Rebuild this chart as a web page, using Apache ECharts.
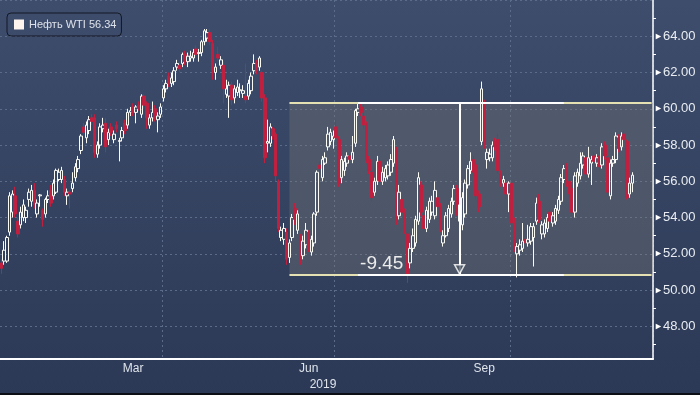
<!DOCTYPE html>
<html><head><meta charset="utf-8">
<script src="https://cdn.jsdelivr.net/npm/echarts@6/dist/echarts.min.js"></script>
<style>html,body{margin:0;padding:0;background:#2c3a57;}#c{width:700px;height:395px;}</style>
</head><body><div id="c"></div>
<script>
// ---- data ----
const seriesName = 'Нефть WTI';
const tradingDays = [
'01-04','01-07','01-08','01-09','01-10','01-11','01-14','01-15','01-16','01-17','01-18','01-22','01-23','01-24','01-25','01-28','01-29','01-30','01-31',
'02-01','02-04','02-05','02-06','02-07','02-08','02-11','02-12','02-13','02-14','02-15','02-19','02-20','02-21','02-22','02-25','02-26','02-27','02-28',
'03-01','03-04','03-05','03-06','03-07','03-08','03-11','03-12','03-13','03-14','03-15','03-18','03-19','03-20','03-21','03-22','03-25','03-26','03-27','03-28','03-29',
'04-01','04-02','04-03','04-04','04-05','04-08','04-09','04-10','04-11','04-12','04-15','04-16','04-17','04-18','04-22','04-23','04-24','04-25','04-26','04-29','04-30',
'05-01','05-02','05-03','05-06','05-07','05-08','05-09','05-10','05-13','05-14','05-15','05-16','05-17','05-20','05-21','05-22','05-23','05-24','05-28','05-29','05-30','05-31',
'06-03','06-04','06-05','06-06','06-07','06-10','06-11','06-12','06-13','06-14','06-17','06-18','06-19','06-20','06-21','06-24','06-25','06-26','06-27','06-28',
'07-01','07-02','07-03','07-05','07-08','07-09','07-10','07-11','07-12','07-15','07-16','07-17','07-18','07-19','07-22','07-23','07-24','07-25','07-26','07-29','07-30','07-31',
'08-01','08-02','08-05','08-06','08-07','08-08','08-09','08-12','08-13','08-14','08-15','08-16','08-19','08-20','08-21','08-22','08-23','08-26','08-27','08-28','08-29','08-30',
'09-03','09-04','09-05','09-06','09-09','09-10','09-11','09-12','09-13','09-16','09-17','09-18','09-19','09-20','09-23','09-24','09-25','09-26','09-27','09-30',
'10-01','10-02','10-03','10-04','10-07','10-08','10-09','10-10','10-11','10-14','10-15','10-16','10-17','10-18','10-21','10-22','10-23','10-24','10-25','10-28','10-29','10-30','10-31',
'11-01','11-04','11-05','11-06','11-07','11-08','11-11','11-12','11-13','11-14','11-15','11-18','11-19','11-20','11-21','11-22','11-25','11-26','11-27','11-29',
'12-02','12-03','12-04','12-05','12-06','12-09','12-10','12-11','12-12'
];
const opens = [
51.5,51.6,51.6,53.2,54.3,55.2,53.8,53.6,54.0,54.0,
55.0,54.9,55.5,54.2,55.2,54.4,54.2,55.0,55.5,55.2,
55.4,56.1,56.1,56.1,55.2,55.4,55.6,56.2,56.7,57.7,
59.0,58.4,58.8,59.5,59.5,57.5,58.0,58.9,59.2,58.3,
59.0,58.3,59.1,58.2,58.4,59.2,59.1,59.8,60.1,59.8,
60.2,59.7,60.7,60.3,59.1,59.5,60.0,59.4,59.7,60.6,
61.1,61.8,61.4,61.5,62.3,62.4,62.5,63.0,62.6,62.8,
62.8,63.3,63.05,63.1,63.7,63.9,64.2,63.6,62.0,63.0,
62.4,62.4,60.8,60.7,61.3,60.6,60.9,61.0,60.85,60.7,
60.7,61.0,62.1,62.5,62.3,62.0,60.6,58.1,58.1,58.9,
58.6,56.0,52.9,52.8,53.2,51.8,52.9,54.5,53.3,53.0,
51.9,52.5,53.2,52.1,52.6,54.3,56.9,56.2,57.0,57.9,
58.2,58.3,59.0,58.3,56.2,56.6,57.0,57.4,57.2,58.1,
59.8,60.1,59.6,59.2,57.2,56.5,55.4,56.0,57.1,56.0,
56.2,56.3,56.5,57.0,57.7,54.1,55.0,54.3,53.1,51.5,
52.3,52.6,53.8,55.8,54.1,53.4,53.9,54.3,54.1,55.1,
54.6,52.6,53.0,53.4,54.2,54.9,55.6,53.8,53.6,54.2,
55.8,56.6,57.2,56.9,55.3,58.2,60.2,57.2,57.3,57.3,
58.2,58.3,56.4,55.9,55.9,55.3,55.9,53.7,52.0,52.2,
52.3,52.8,52.6,52.7,52.9,53.8,54.9,53.1,53.1,53.4,
54.3,53.7,53.8,54.4,54.9,56.1,56.8,56.0,55.6,54.3,
55.9,56.3,56.9,57.3,56.4,57.0,57.4,57.0,57.4,56.9,
58.0,57.3,55.2,57.0,57.2,58.4,57.9,58.6,58.2,55.3,55.9
];
const closes = [
51.2,52.2,52.9,55.2,55.3,54.2,53.1,54.3,54.7,54.4,
55.4,55.5,54.7,54.8,55.25,53.9,55.0,55.2,54.8,55.9,
56.6,56.5,56.6,55.4,55.4,55.3,55.9,56.8,57.2,58.5,
58.7,59.1,59.4,59.3,57.6,58.0,59.0,59.1,57.9,58.7,
58.7,58.6,58.9,58.25,58.8,58.8,59.8,59.9,59.8,60.1,
60.0,60.7,60.2,59.5,59.5,59.8,59.5,59.6,60.1,61.1,
61.4,61.4,61.7,62.1,62.5,62.2,63.0,62.6,62.9,62.9,
63.1,63.0,63.1,63.7,64.3,64.2,63.7,62.1,62.3,62.8,
62.7,61.1,61.1,61.3,60.5,61.1,61.2,61.05,61.0,60.5,
61.4,61.8,62.5,62.1,62.8,60.6,57.3,58.2,59.0,58.5,
56.3,53.4,53.3,53.4,51.7,52.6,54.0,53.9,54.2,51.7,
52.7,53.3,52.3,52.8,54.2,56.5,56.7,57.2,57.3,58.6,
58.7,58.5,58.4,55.9,57.2,57.1,57.4,57.2,57.6,59.9,
60.0,59.8,59.1,57.2,56.6,55.1,56.0,57.1,56.0,56.5,
56.7,56.9,57.2,58.3,53.8,55.4,54.3,53.3,50.9,52.3,
53.0,53.9,56.2,54.3,53.4,54.4,54.9,54.9,55.5,54.6,
53.4,53.0,54.1,54.5,54.9,55.6,54.3,54.7,55.1,55.9,
56.7,57.1,56.5,55.2,54.6,61.1,58.0,57.6,57.5,58.0,
57.9,56.6,55.9,56.1,55.3,55.9,53.7,52.3,52.4,52.5,
52.7,52.6,52.8,53.5,53.5,54.8,53.9,53.6,53.7,54.0,
53.8,54.1,54.5,55.0,56.2,56.7,55.9,55.3,54.3,56.3,
56.5,57.0,57.4,56.4,57.3,57.2,57.1,57.3,56.8,57.9,
57.4,55.4,57.0,57.2,58.5,57.8,58.5,58.3,55.1,55.9,56.34
];
const highs = [
51.7,52.7,53.0,55.4,55.5,55.7,54.0,54.6,55.0,54.6,
55.6,55.8,55.9,55.0,55.3,54.5,55.1,55.5,55.8,56.1,
56.7,56.7,56.8,56.3,55.6,55.5,56.5,57.0,57.4,58.6,
59.2,59.3,59.6,59.7,59.7,58.2,59.2,59.5,59.5,58.9,
59.2,58.8,59.3,58.4,59.0,59.4,60.0,60.1,60.3,60.2,
60.4,60.8,60.8,60.4,59.7,60.4,60.2,59.8,60.3,61.3,
61.6,62.0,62.0,62.3,62.7,62.6,63.1,63.2,63.1,63.2,
63.3,63.5,63.3,63.8,64.4,64.4,64.4,63.8,62.5,63.4,
62.9,62.6,61.6,61.5,61.5,61.3,61.6,61.4,61.3,62.5,
61.6,62.0,63.0,62.7,62.9,62.1,60.8,59.4,59.2,59.0,
58.7,56.1,53.5,53.7,53.4,52.8,54.2,54.8,54.4,53.1,
53.0,53.7,53.3,53.0,54.3,56.6,57.1,57.4,57.6,59.0,
58.9,58.8,59.4,58.5,57.4,57.3,57.6,57.5,58.5,60.0,
60.3,60.3,60.2,59.3,57.4,56.6,56.2,57.4,57.3,56.8,
56.9,57.1,57.5,58.5,57.9,55.8,55.2,54.5,53.2,52.6,
53.4,54.1,56.5,56.0,54.3,54.6,55.1,55.2,56.0,55.3,
54.8,53.3,54.3,54.7,55.1,55.8,55.8,55.0,55.4,56.1,
56.9,57.6,57.4,57.1,55.5,61.5,60.5,57.8,57.8,58.2,
58.4,58.6,56.6,56.3,56.1,56.0,56.0,54.0,52.6,52.8,
53.7,53.0,53.6,53.7,53.7,55.1,55.3,53.8,53.9,54.2,
54.5,54.3,54.7,55.2,56.4,56.9,57.0,56.2,55.8,56.5,
56.7,57.6,57.6,57.5,57.9,57.4,57.6,57.5,57.6,58.1,
58.2,57.4,57.2,57.4,58.7,58.6,58.7,58.8,58.3,56.2,56.5
];
const lows = [
50.9,51.4,51.5,53.0,54.0,54.0,52.9,53.4,53.8,53.7,
54.6,54.6,54.5,54.0,54.6,53.5,54.0,54.8,54.6,55.0,
55.3,56.0,55.9,55.2,54.7,54.5,55.4,56.0,56.5,57.5,
58.6,58.1,58.6,59.1,57.3,57.3,57.8,58.7,57.6,58.0,
58.5,58.1,58.7,57.1,58.2,58.6,58.9,59.6,59.6,59.2,
59.9,59.5,60.0,58.9,58.9,59.3,59.3,58.7,59.5,60.4,
60.9,61.2,61.2,61.3,62.1,62.0,62.3,62.4,62.3,62.6,
62.6,62.9,62.6,62.9,63.5,63.7,63.5,61.6,61.6,62.6,
62.2,60.3,60.6,59.5,60.2,60.3,60.7,60.6,60.6,60.3,
60.5,60.8,61.9,61.9,62.1,60.4,57.0,57.6,57.9,58.3,
56.0,53.2,52.7,52.5,51.4,51.5,52.7,53.6,53.1,51.4,
51.7,52.3,52.1,51.9,52.4,54.1,56.4,56.0,56.9,57.7,
58.0,57.8,58.2,55.7,55.9,56.3,56.8,56.9,57.0,57.9,
59.6,59.6,58.9,57.0,56.4,54.9,55.2,55.8,55.8,55.8,
56.0,56.1,56.3,56.8,53.6,53.9,54.1,53.1,50.4,51.2,
52.1,52.4,53.6,54.1,53.2,53.2,53.7,54.1,53.9,54.4,
53.2,52.4,52.9,53.2,54.0,54.7,54.1,53.6,53.3,54.0,
55.6,56.4,56.3,55.0,54.3,58.0,57.8,56.7,57.1,57.1,
57.7,56.4,55.7,55.7,55.0,54.3,53.5,52.1,50.7,51.9,
52.1,52.4,52.4,52.5,51.3,53.6,53.7,52.8,52.9,53.2,
53.6,53.5,53.6,54.2,54.7,55.9,55.7,55.1,54.1,54.0,
55.7,56.1,56.7,56.2,56.2,55.8,56.9,56.8,56.6,56.7,
57.2,55.2,55.0,56.8,57.0,57.6,57.7,58.1,55.0,55.1,55.4
];
// axis labelling
const labelMonths = ['03', '06', '09'];
const labelTexts = ['Mar', 'Jun', 'Sep'];
const gridMonths = ['04', '07', '10'];
const yearLabel = '2019';
// range annotation (price levels and dates)
const rangeHigh = 60.32;
const rangeLow = 50.87;
const boxStart = '2019-06-06';
const measureStart = '2019-07-12';
const measureEnd = '2019-10-28';
const arrowDate = '2019-09-04';

// ---- build ----
const categories = tradingDays.map(d => '2019-' + d);
const lastCategory = categories[categories.length - 1];
const candleData = opens.map((o, i) => [o, closes[i], lows[i], highs[i]]);
const lastClose = closes[closes.length - 1];
const monthOf = i => categories[i].slice(5, 7);
const monthStarts = [];
for (let i = 1; i < categories.length; i++) if (monthOf(i) !== monthOf(i - 1)) monthStarts.push(i);
const tickSet = new Set(monthStarts);
const gridSet = new Set(monthStarts.filter(i => gridMonths.includes(monthOf(i))));
const labelMap = {};
labelMonths.forEach((m, k) => {
  const s = categories.findIndex(c => c.slice(5, 7) === m);
  const e = monthStarts.find(i => i > s);
  labelMap[Math.floor((s + e) / 2)] = labelTexts[k];
});
const changeText = (rangeLow - rangeHigh).toFixed(2);

const gridColor = '#5a6c8a';
const whiteLine = {color: '#ffffff', width: 2, type: 'solid'};
const yellowLine = {color: '#e6e1b3', width: 2, type: 'solid'};
const FONT = 'Liberation Sans';

const chart = echarts.init(document.getElementById('c'), null, {renderer: 'canvas', width: 700, height: 395});
chart.setOption({
  animation: false,
  backgroundColor: new echarts.graphic.LinearGradient(0, 0, 0, 1, [
    {offset: 0, color: '#3f4d6d'}, {offset: 1, color: '#2b3956'}
  ]),
  grid: {left: 0, right: 47, top: 0, bottom: 36, containLabel: false, outerBoundsMode: 'none'},
  legend: {
    left: 7, top: 13, padding: [6, 5, 6, 7], itemWidth: 10, itemHeight: 10,
    selectedMode: false, borderColor: '#121725', borderWidth: 1, borderRadius: 4,
    data: [{name: seriesName, icon: 'rect', itemStyle: {color: '#fff3ee', borderWidth: 0}}],
    formatter: n => n + ' ' + lastClose.toFixed(2),
    textStyle: {color: '#dde2ea', fontSize: 11, fontFamily: FONT}
  },
  xAxis: {
    type: 'category', data: categories, boundaryGap: true,
    axisLine: {lineStyle: {color: '#ffffff', width: 2}},
    axisTick: {interval: i => tickSet.has(i), length: 4, lineStyle: {color: '#ffffff', width: 1}},
    axisLabel: {
      interval: i => (i in labelMap), formatter: (v, i) => labelMap[i] || '',
      color: '#dfe4ec', fontSize: 12, fontFamily: FONT, margin: 4
    },
    splitLine: {show: true, interval: i => gridSet.has(i), lineStyle: {color: gridColor, type: [2, 3], width: 1}}
  },
  yAxis: {
    type: 'value', position: 'right', min: 46.2, max: 66, splitNumber: 10,
    axisLine: {show: true, lineStyle: {color: '#ffffff', width: 1.5}},
    axisTick: {show: false},
    minorTick: {show: true, splitNumber: 2, length: 3, lineStyle: {color: '#ffffff', width: 1}},
    axisLabel: {
      showMinLabel: false, showMaxLabel: false, margin: 1,
      formatter: v => '{t|►}' + v.toFixed(2),
      color: '#e9edf2', fontSize: 13, fontFamily: FONT,
      rich: {t: {fontSize: 9, color: '#ffffff', fontFamily: FONT}}
    },
    splitLine: {show: true, lineStyle: {color: gridColor, type: [2, 3], width: 1}}
  },
  graphic: [
    {type: 'text', x: 323, y: 385, silent: true,
     style: {text: yearLabel, fill: '#dfe4ec', fontSize: 12, fontFamily: FONT, align: 'center', verticalAlign: 'middle'}},
    {type: 'rect', shape: {x: 0, y: 393, width: 700, height: 2}, style: {fill: '#0c0f16'}, silent: true}
  ],
  series: [
    {
      name: seriesName, type: 'candlestick', data: candleData, barWidth: 3, z: 3,
      itemStyle: {
        color: 'transparent', color0: '#c0203f',
        borderColor: '#fbfbf6', borderColor0: '#c0203f', borderColorDoji: '#fbfbf6', borderWidth: 1
      }
    },
    {
      type: 'line', data: [], z: 1, silent: true,
      markArea: {silent: true, itemStyle: {color: 'rgba(125,125,120,0.34)'},
        data: [[{xAxis: boxStart, yAxis: rangeHigh}, {yAxis: rangeLow}]]}
    },
    {
      type: 'line', data: [], z: 4, silent: true,
      markLine: {
        silent: true, symbol: ['none', 'none'], animation: false, label: {show: false},
        data: [
          [{xAxis: boxStart, yAxis: rangeHigh, lineStyle: yellowLine}, {xAxis: lastCategory, yAxis: rangeHigh}],
          [{xAxis: boxStart, yAxis: rangeLow, lineStyle: yellowLine}, {xAxis: lastCategory, yAxis: rangeLow}],
          [{xAxis: measureStart, yAxis: rangeHigh, lineStyle: whiteLine}, {xAxis: measureEnd, yAxis: rangeHigh}],
          [{xAxis: measureStart, yAxis: rangeLow, lineStyle: whiteLine,
            label: {show: true, position: 'insideStartTop', formatter: changeText, color: '#ececec',
                    fontSize: 19, fontFamily: FONT, distance: [2, 1]}},
           {xAxis: measureEnd, yAxis: rangeLow}],
          [{xAxis: arrowDate, yAxis: rangeHigh, lineStyle: whiteLine}, {xAxis: arrowDate, yAxis: rangeLow}],
          {yAxis: lastClose, lineStyle: {opacity: 0},
           label: {show: true, position: 'end', distance: 2, formatter: lastClose.toFixed(2),
                   backgroundColor: '#fffdf8', color: '#141414', fontSize: 13, fontFamily: FONT,
                   padding: [3, 4, 2, 5], borderRadius: 2}}
        ]
      }
    },
    {
      type: 'scatter', data: [[arrowDate, rangeLow]], z: 5, silent: true,
      symbol: 'triangle', symbolRotate: 180, symbolSize: [10, 9], symbolOffset: [0, -5],
      itemStyle: {color: '#4d5767', borderColor: '#ffffff', borderWidth: 1.5}
    }
  ]
});
</script></body></html>
